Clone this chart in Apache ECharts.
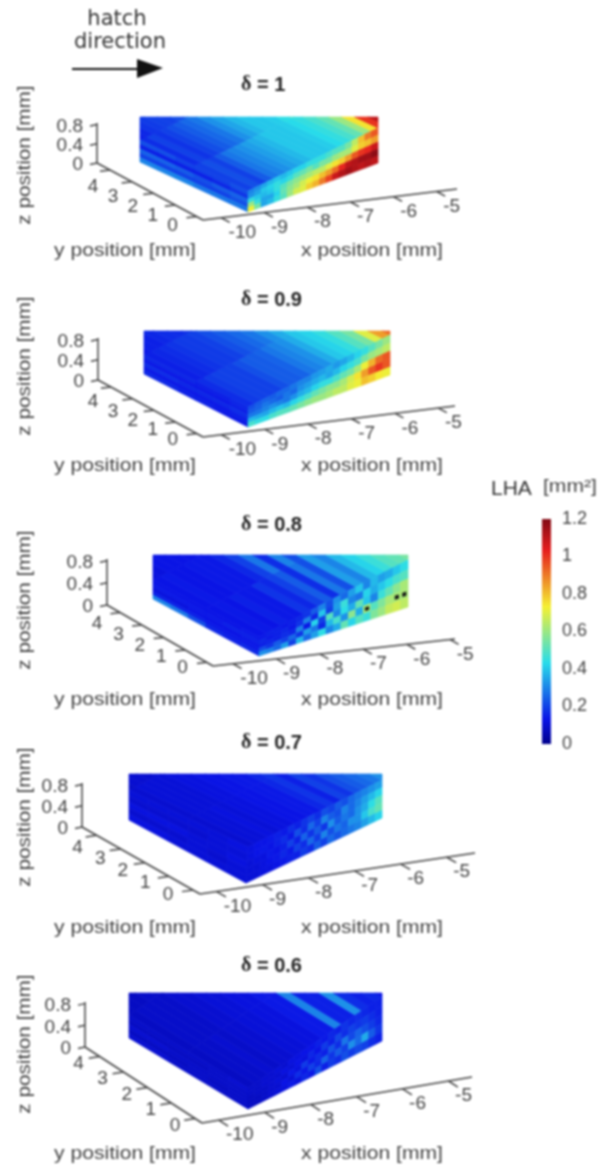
<!DOCTYPE html>
<html><head><meta charset="utf-8">
<style>html,body{margin:0;padding:0;background:#fff}#c{width:600px;height:1169px;filter:blur(0.9px)}</style>
<script src="https://cdn.jsdelivr.net/npm/echarts@6/dist/echarts.min.js"></script>
</head><body><div id="c"></div>
<script>
// ---------- tick labels and titles ----------
const xTicks = [-10, -9, -8, -7, -6, -5];
const yTicks = [0, 1, 2, 3, 4];
const zTicks = [0, 0.4, 0.8];
const deltas = ['1', '0.9', '0.8', '0.7', '0.6'];

// ---------- LHA values (mm^2). 1.5 marks the black, off-scale specks ----------
// top face: rows front -> back, columns along x
const top1 = [
 [.20,.22,.20,.24,.28,.30,.32,.34,.36,.38,.40,.40,.40,.41,.43,.45,.48,.52,.60,.75,1.0,1.1],
 [.17,.20,.18,.20,.22,.24,.26,.28,.32,.35,.38,.40,.40,.41,.44,.47,.50,.52,.60,.75,1.0,1.1],
 [.15,.16,.18,.19,.20,.20,.22,.25,.25,.28,.32,.35,.38,.40,.41,.42,.45,.50,.75,.90,1.05,1.12]];
const top2 = [
 [.17,.19,.20,.20,.20,.22,.24,.24,.25,.28,.30,.32,.36,.40,.42,.45,.50,.55,.70,.85,.92,.90],
 [.15,.16,.17,.18,.19,.19,.20,.22,.24,.26,.28,.32,.36,.40,.44,.48,.52,.60,.72,.85,.92,.90],
 [.14,.15,.15,.16,.17,.17,.18,.20,.22,.24,.27,.32,.36,.40,.44,.48,.52,.60,.72,.85,.92,.90]];
const top3 = [
 [.13,.14,.13,.15,.14,.14,.18,.16,.20,.24,.17,.28,.22,.34,.30,.38,.42,.46,.50,.52,.55,.62],
 [.13,.14,.13,.13,.14,.14,.14,.16,.20,.28,.17,.30,.22,.34,.30,.40,.38,.42,.50,.55,.62,.72],
 [.12,.12,.13,.13,.13,.13,.14,.15,.20,.26,.18,.30,.22,.34,.30,.36,.40,.42,.50,.60,.72,.78]];
const top4 = [
 [.10,.11,.11,.12,.11,.12,.12,.13,.13,.14,.14,.16,.18,.15,.20,.18,.22,.24,.26,.28,.32,.36],
 [.10,.11,.11,.11,.11,.12,.12,.13,.13,.14,.14,.16,.18,.15,.20,.18,.22,.24,.26,.30,.36,.40],
 [.09,.10,.10,.10,.11,.11,.12,.13,.13,.14,.14,.16,.18,.15,.20,.18,.22,.26,.28,.32,.38,.42]];
const top5 = [
 [.08,.09,.09,.10,.09,.10,.10,.11,.11,.12,.12,.14,.14,.30,.15,.15,.32,.17,.15,.16,.13,.13],
 [.08,.09,.09,.09,.09,.10,.10,.11,.11,.12,.12,.14,.14,.22,.14,.14,.24,.15,.15,.15,.13,.13],
 [.08,.08,.08,.09,.09,.09,.10,.10,.10,.11,.12,.13,.13,.16,.13,.14,.16,.14,.14,.14,.13,.13]];
// y-z face: rows top -> bottom, columns back -> front
const side1 = [[.22,.22,.20,.20,.20,.22],[.15,.15,.15,.15,.16,.18],[.25,.25,.24,.22,.24,.25],[.20,.20,.20,.20,.20,.22],[.30,.30,.30,.28,.28,.28]];
const side2 = [[.16,.16,.16,.15,.15,.16],[.14,.14,.14,.14,.14,.15],[.17,.17,.16,.16,.16,.17],[.14,.14,.14,.14,.14,.15],[.16,.16,.15,.15,.14,.14]];
const side3 = [[.13,.13,.13,.13,.13,.14],[.14,.14,.14,.14,.15,.15],[.12,.12,.13,.13,.13,.14],[.15,.15,.15,.14,.14,.14],[.30,.28,.22,.16,.15,.16]];
const side4 = [[.11,.11,.11,.11,.11,.12],[.10,.10,.10,.10,.11,.11],[.12,.12,.12,.11,.11,.12],[.10,.10,.10,.11,.10,.11],[.12,.12,.11,.11,.11,.11]];
const side5 = [[.09,.09,.09,.09,.09,.10],[.08,.08,.08,.08,.09,.09],[.10,.10,.09,.09,.09,.09],[.08,.08,.08,.09,.08,.09],[.10,.10,.09,.09,.09,.09]];
// x-z face: rows top -> bottom, columns along x
const front1 = [
 [.30,.32,.35,.38,.40,.38,.40,.42,.42,.45,.45,.45,.48,.50,.50,.55,.65,.80,.90,.95],
 [.32,.35,.40,.42,.45,.42,.45,.50,.52,.55,.50,.55,.55,.60,.62,.62,.70,.78,.80,.85],
 [.45,.40,.38,.40,.45,.50,.55,.58,.60,.62,.65,.65,.70,.75,.78,.85,.95,1.0,1.02,1.08],
 [.60,.45,.35,.35,.42,.52,.58,.62,.68,.72,.75,.80,.85,.92,1.02,1.10,1.12,1.15,1.15,1.18],
 [.72,.55,.35,.38,.45,.50,.60,.68,.70,.78,.82,.90,.98,1.08,1.12,1.15,1.12,1.1,1.12,1.1]];
const front2 = [
 [.22,.24,.25,.24,.26,.26,.28,.30,.30,.33,.34,.36,.33,.35,.38,.42,.45,.50,.55,.60],
 [.24,.25,.28,.26,.24,.28,.26,.32,.34,.36,.38,.35,.38,.42,.45,.48,.55,.60,.62,.65],
 [.28,.28,.30,.32,.30,.28,.32,.36,.38,.42,.45,.45,.48,.52,.55,.62,.72,.82,.92,.95],
 [.38,.36,.35,.38,.40,.38,.42,.45,.48,.52,.55,.58,.58,.62,.68,.75,.85,.95,1.0,.95],
 [.48,.45,.44,.48,.50,.50,.52,.55,.58,.60,.60,.62,.65,.65,.70,.72,.80,.78,.74,.72]];
const front3 = [
 [.14,.15,.15,.14,.15,.16,.18,.24,.30,.22,.32,.26,.34,.40,.30,.38,.34,.36,.40,.44],
 [.16,.14,.15,.16,.14,.18,.30,.16,.40,.20,.34,.46,.30,.28,.42,.36,.40,.44,.48,.50],
 [.15,.16,.15,.17,.16,.30,.14,.42,.20,.50,.30,.44,.36,.52,.40,.30,.46,.52,.58,.62],
 [.22,.18,.24,.20,.26,.18,.34,.28,.16,.38,.48,.32,.58,.36,1.5,.50,.56,.62,1.5,1.5],
 [.32,.30,.26,.34,.20,.38,.26,.34,.44,.30,.36,.52,.42,.50,.46,.56,.60,.66,.68,.65]];
const front4 = [
 [.12,.13,.13,.14,.15,.14,.17,.15,.18,.20,.17,.22,.20,.24,.22,.26,.28,.30,.32,.34],
 [.12,.13,.14,.13,.15,.17,.14,.22,.17,.26,.20,.30,.24,.22,.30,.26,.30,.34,.38,.42],
 [.11,.12,.12,.14,.13,.15,.20,.15,.25,.18,.24,.18,.32,.24,.28,.26,.32,.36,.44,.50],
 [.11,.11,.12,.13,.14,.16,.14,.20,.17,.26,.19,.30,.22,.28,.25,.32,.32,.40,.48,.52],
 [.11,.11,.12,.12,.13,.14,.15,.15,.19,.17,.24,.20,.26,.23,.26,.28,.30,.34,.38,.42]];
const front5 = [
 [.09,.09,.10,.10,.11,.10,.12,.12,.13,.13,.15,.14,.16,.15,.18,.16,.17,.16,.15,.15],
 [.09,.09,.10,.10,.10,.12,.11,.13,.12,.16,.13,.19,.15,.21,.17,.20,.18,.19,.17,.15],
 [.08,.09,.09,.10,.11,.10,.14,.12,.19,.14,.17,.15,.23,.17,.28,.21,.25,.22,.19,.16],
 [.08,.08,.09,.10,.10,.13,.11,.17,.14,.20,.16,.25,.18,.24,.20,.32,.26,.36,.24,.18],
 [.08,.08,.09,.10,.11,.12,.14,.12,.16,.14,.22,.15,.19,.17,.22,.19,.21,.20,.17,.15]];

const tops = [top1, top2, top3, top4, top5];
const sides = [side1, side2, side3, side4, side5];
const fronts = [front1, front2, front3, front4, front5];

// ---------- layout of each oblique panel (page units) ----------
const panels = [
 {O:[203,220], xE:[457,189], yE:[97,163], zT:[97,123], xf:[.072,.92], yo:[[-24,9],[-17,17]], clip:[140,378,117], L:[140,162], F:[248,212], R:[378,163], FT:[248,191], RT:[378,128], A:[140,140], titleY:87, labelY:251, zLabelY:155},
 {O:[203,437], xE:[455,406], yE:[98,380], zT:[98,338], xf:[.073,.934], yo:[[-24,6],[-18,15]], clip:[144,390,331], L:[144,374], F:[248,427], R:[390,375], FT:[248,407], RT:[390,335], A:[144,355], titleY:302, labelY:466, zLabelY:366},
 {O:[213,666], xE:[455,639], yE:[107,605], zT:[107,559], xf:[.083,.98], yo:[[-24,5],[-23,11]], clip:[153,408,555], L:[153,599], F:[259,656], R:[408,607], FT:[259,637], RT:[408,560], A:[153,580], titleY:527, labelY:700, zLabelY:600},
 {O:[200,894], xE:[475,853], yE:[82,827], zT:[82,783], xf:[.06,.897], yo:[[-25,5],[-19,12]], clip:[129,382,774], L:[129,820], F:[246,883], R:[382,818], FT:[248,847], RT:[382,780], A:[129,790], titleY:745, labelY:928, zLabelY:817},
 {O:[202,1123], xE:[472,1077], yE:[85,1047], zT:[85,1002], xf:[.062,.913], yo:[[-20,7],[-21,7]], clip:[129,382,993], L:[129,1038], F:[248,1109], R:[382,1041], FT:[248,1088], RT:[382,997], A:[129,1015], titleY:968, labelY:1154, zLabelY:1044}
];

const jetStops = [[0,'#00008c'],[.11,'#0a14e6'],[.36,'#28dcea'],[.61,'#f5f032'],[.86,'#e61e1e'],[1,'#820a14']];
const lhaMax = 1.2;
function rgb(h){return [1,3,5].map(i=>parseInt(h.substr(i,2),16));}
function jet(v){
  const t=Math.max(0,Math.min(1,v/lhaMax));
  for(let i=1;i<jetStops.length;i++){
    if(t<=jetStops[i][0]){
      const a=jetStops[i-1],b=jetStops[i],f=(t-a[0])/(b[0]-a[0]),c=rgb(a[1]),d=rgb(b[1]);
      return 'rgb('+c.map((q,j)=>Math.round(q+(d[j]-q)*f)).join(',')+')';
    }
  }
  return jetStops[jetStops.length-1][1];
}
function bil(tl,tr,br,bl,u,v){
  return [0,1].map(i=>(1-v)*((1-u)*tl[i]+u*tr[i])+v*((1-u)*bl[i]+u*br[i]));
}
function clipPoly(pts,x0,x1,y0){
  const cut=(poly,inside,hit)=>{
    const out=[];
    poly.forEach((p,i)=>{
      const q=poly[(i+1)%poly.length],a=inside(p),b=inside(q);
      if(a) out.push(p);
      if(a!==b) out.push(hit(p,q));
    });
    return out;
  };
  const atX=X=>(p,q)=>[X,p[1]+(q[1]-p[1])*(X-p[0])/(q[0]-p[0])];
  const atY=Y=>(p,q)=>[p[0]+(q[0]-p[0])*(Y-p[1])/(q[1]-p[1]),Y];
  let r=cut(pts,p=>p[0]>=x0,atX(x0));
  r=cut(r,p=>p[0]<=x1,atX(x1));
  r=cut(r,p=>p[1]>=y0,atY(y0));
  return r;
}
function cellPoly(p,face,row,col,nr,nc){
  if(face===0){ // top face, extends beyond the cropped box
    const pt=(u,k)=>[0,1].map(i=>p.FT[i]+u*(p.RT[i]-p.FT[i])+k*(p.A[i]-p.FT[i]));
    const u0=col*.05,u1=(col+1)*.05,k0=row*.5,k1=(row+1)*.5;
    return clipPoly([pt(u0,k0),pt(u1,k0),pt(u1,k1),pt(u0,k1)],p.clip[0],p.clip[1],p.clip[2]);
  }
  const q=face===1?[p.A,p.FT,p.F,p.L]:[p.FT,p.RT,p.R,p.F];
  const u0=col/nc,u1=(col+1)/nc,v0=row/nr,v1=(row+1)/nr;
  return [bil(...q,u0,v0),bil(...q,u1,v0),bil(...q,u1,v1),bil(...q,u0,v1)];
}
function cellSeries(pi){
  const data=[];
  [tops[pi],sides[pi],fronts[pi]].forEach((m,f)=>m.forEach((r,i)=>r.forEach((v,j)=>data.push([f,i,j,v,m.length,r.length]))));
  return {type:'custom',xAxisIndex:0,yAxisIndex:0,silent:true,animation:false,clip:false,encode:{x:-1,y:-1},data,
    renderItem(params,api){
      const f=api.value(0),pts=cellPoly(panels[pi],f,api.value(1),api.value(2),api.value(4),api.value(5));
      if(pts.length<3) return {type:'group',children:[]};
      const v=api.value(3),scr=pts.map(q=>api.coord(q));
      if(v>lhaMax){ // off-scale speck: small black mark on the surrounding colour
        const cx=scr.reduce((s,q)=>s+q[0],0)/scr.length,cy=scr.reduce((s,q)=>s+q[1],0)/scr.length;
        const small=scr.map(q=>[cx+(q[0]-cx)*.55,cy+(q[1]-cy)*.45]);
        const base=jet(.62);
        return {type:'group',children:[
          {type:'polygon',shape:{points:scr},style:{fill:base,stroke:base,lineWidth:.7}},
          {type:'polygon',shape:{points:small},style:{fill:'#141414'}}]};
      }
      const c=jet(v);
      return {type:'polygon',shape:{points:scr},style:{fill:c,stroke:c,lineWidth:.7}};
    }};
}
const axisFont='19px "Liberation Sans"';
const ink='#444';
function axesSeries(pi){
  return {type:'custom',xAxisIndex:0,yAxisIndex:0,silent:true,animation:false,clip:false,encode:{x:-1,y:-1},data:[[pi]],
    renderItem(params,api){
      const p=panels[pi],ch=[];
      const mix=(a,b,t)=>[a[0]+(b[0]-a[0])*t,a[1]+(b[1]-a[1])*t];
      const add=(q,d)=>[q[0]+d[0],q[1]+d[1]];
      const line=(a,b)=>{const s=api.coord(a),e=api.coord(b);ch.push({type:'line',shape:{x1:s[0],y1:s[1],x2:e[0],y2:e[1]},style:{stroke:'#444',lineWidth:1.5}});};
      const text=(q,t,o)=>{const s=api.coord(q);ch.push(Object.assign({type:'text',x:s[0],y:s[1],style:{text:String(t),font:axisFont,fill:ink,textAlign:o.align||'center',textVerticalAlign:'middle'}},o.extra||{}));};
      const xv=[p.xE[0]-p.O[0],p.xE[1]-p.O[1]],yv=[p.yE[0]-p.O[0],p.yE[1]-p.O[1]];
      const xTick=[-yv[0]*.08,-yv[1]*.08],yTick=[-xv[0]*.04,-xv[1]*.04],zTick=[-7,1.5];
      line(p.O,p.xE);line(p.O,p.yE);line(p.yE,p.zT);
      const span=xTicks[xTicks.length-1]-xTicks[0];
      xTicks.forEach(t=>{
        const q=mix(p.O,p.xE,p.xf[0]+(p.xf[1]-p.xf[0])*(t-xTicks[0])/span);
        line(q,add(q,xTick));
        text(add(q,[t===-10?21:15,15]),t,{});
      });
      yTicks.forEach(t=>{
        const q=mix(p.O,p.yE,.06+t*.204);
        line(q,add(q,yTick));
        text(add(q,mix(p.yo[0],p.yo[1],t/4)),t,{});
      });
      zTicks.forEach(t=>{
        const q=mix(p.yE,p.zT,t/.83);
        line(q,add(q,zTick));
        text(add(q,[-14,2]),t,{align:'right'});
      });
      text([125,p.labelY],'y position [mm]',{extra:{scaleX:1.11}});
      text([372,p.labelY],'x position [mm]',{extra:{scaleX:1.11}});
      text([25,p.zLabelY],'z position [mm]',{extra:{scaleX:1.09,rotation:Math.PI/2}});
      return {type:'group',children:ch};
    }};
}
const series=[];
panels.forEach((p,i)=>{series.push(cellSeries(i));series.push(axesSeries(i));});
series.push({type:'bar',xAxisIndex:1,yAxisIndex:1,silent:true,animation:false,barWidth:'100%',data:[lhaMax],
  itemStyle:{color:new echarts.graphic.LinearGradient(0,1,0,0,jetStops.map(s=>({offset:s[0],color:s[1]})))}});

const chart=echarts.init(document.getElementById('c'),null,{renderer:'canvas'});
chart.setOption({
  backgroundColor:'#fff',
  animation:false,
  title:panels.map((p,i)=>({
    text:'{d|δ} = '+deltas[i],left:241,top:p.titleY-12,itemGap:0,padding:0,
    textStyle:{fontFamily:'Liberation Sans',fontWeight:'bold',fontSize:20,color:'#222',
      rich:{d:{fontFamily:'Liberation Serif',fontWeight:'bold',fontSize:20,color:'#222'}}}
  })),
  grid:[{left:0,top:0,width:600,height:1169,show:false},{left:542,top:519,width:9,height:225,show:false}],
  xAxis:[{type:'value',min:0,max:600,show:false,gridIndex:0},{type:'category',data:['LHA'],show:false,gridIndex:1}],
  yAxis:[{type:'value',min:0,max:1169,inverse:true,show:false,gridIndex:0},
    {type:'value',gridIndex:1,min:0,max:lhaMax,interval:.2,position:'right',axisLine:{show:false},axisTick:{show:false},splitLine:{show:false},
     axisLabel:{margin:11,fontFamily:'Liberation Sans',fontSize:18,color:ink}}],
  series,
  graphic:[
    {type:'text',x:117,y:20,style:{text:'hatch',font:'21px "DejaVu Sans"',fill:'#333',textAlign:'center',textVerticalAlign:'middle'}},
    {type:'text',x:120,y:43,style:{text:'direction',font:'21px "DejaVu Sans"',fill:'#333',textAlign:'center',textVerticalAlign:'middle'}},
    {type:'line',shape:{x1:72,y1:69,x2:142,y2:69},style:{stroke:'#111',lineWidth:1.8}},
    {type:'polygon',shape:{points:[[137,59],[163,68],[137,78]]},style:{fill:'#111'}},
    {type:'text',x:491,y:489,style:{text:'LHA',font:'21px "Liberation Sans"',fill:'#333',textVerticalAlign:'middle'}},
    {type:'text',x:543,y:487,scaleX:1.17,style:{text:'[mm²]',font:'18px "Liberation Sans"',fill:'#444',textVerticalAlign:'middle'}}
  ]
});
</script></body></html>
